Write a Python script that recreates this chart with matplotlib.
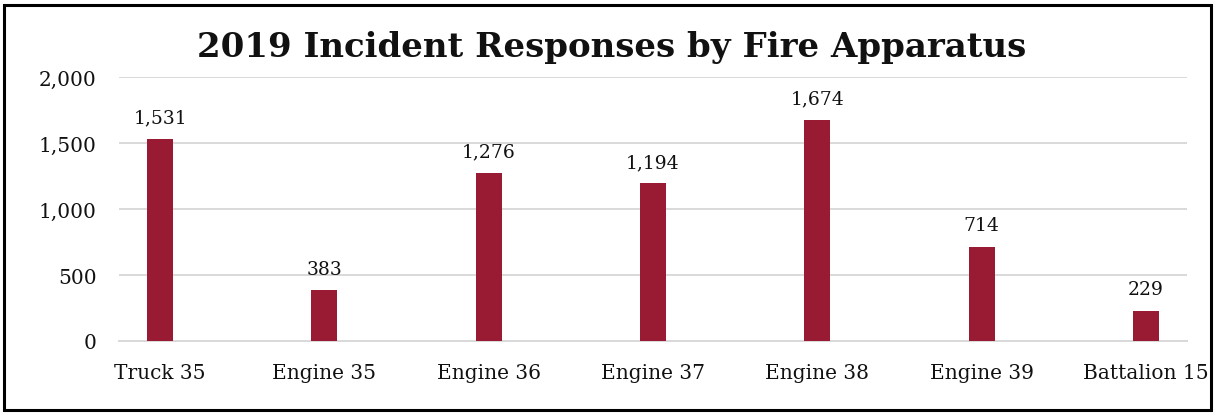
import matplotlib.pyplot as plt
from matplotlib.patches import Rectangle
from matplotlib.ticker import FuncFormatter

apparatus = ["Truck 35", "Engine 35", "Engine 36", "Engine 37",
             "Engine 38", "Engine 39", "Battalion 15"]
responses = [1531, 383, 1276, 1194, 1674, 714, 229]

BAR_COLOR = "#981b33"
GRID_COLOR = "#d9d9d9"
plt.rcParams["font.family"] = ["DejaVu Serif"]

fig = plt.figure(figsize=(12.15, 4.14), dpi=100)
ax = fig.add_axes([119 / 1215, 1 - 342 / 414, 1068 / 1215, 264 / 414])

x = list(range(len(apparatus)))
bars = ax.bar(x, responses, width=0.158, color=BAR_COLOR, zorder=3)

for xi, val in zip(x, responses):
    ax.annotate(f"{val:,}", (xi, val), xytext=(0, 9), textcoords="offset points",
                ha="center", va="bottom", fontsize=13.5, color="#111111")

ax.set_xlim(-0.25, 6.25)
ax.set_ylim(0, 2000)
ax.set_yticks([0, 500, 1000, 1500, 2000])
ax.yaxis.set_major_formatter(FuncFormatter(lambda v, p: f"{int(v):,}"))
ax.set_xticks(x)
ax.set_xticklabels(apparatus)
ax.tick_params(axis="both", length=0, labelsize=14.5, colors="#111111")
ax.tick_params(axis="x", pad=16)
ax.tick_params(axis="y", pad=16)

ax.grid(axis="y", color=GRID_COLOR, linewidth=1.4, zorder=0)
for side in ["top", "right", "left"]:
    ax.spines[side].set_visible(False)
ax.spines["bottom"].set_color(GRID_COLOR)
ax.spines["bottom"].set_linewidth(1.4)

fig.text(612 / 1215, 1 - 48 / 414, "2019 Incident Responses by Fire Apparatus",
         ha="center", va="center", fontsize=24.5, fontweight="bold", color="#111111")

# outer frame around the whole chart
fig.patches.append(Rectangle((4 / 1215, 3 / 414), 1207 / 1215, 405 / 414,
                             transform=fig.transFigure, fill=False,
                             edgecolor="black", linewidth=2.2))

fig.savefig("out.png", dpi=100)
